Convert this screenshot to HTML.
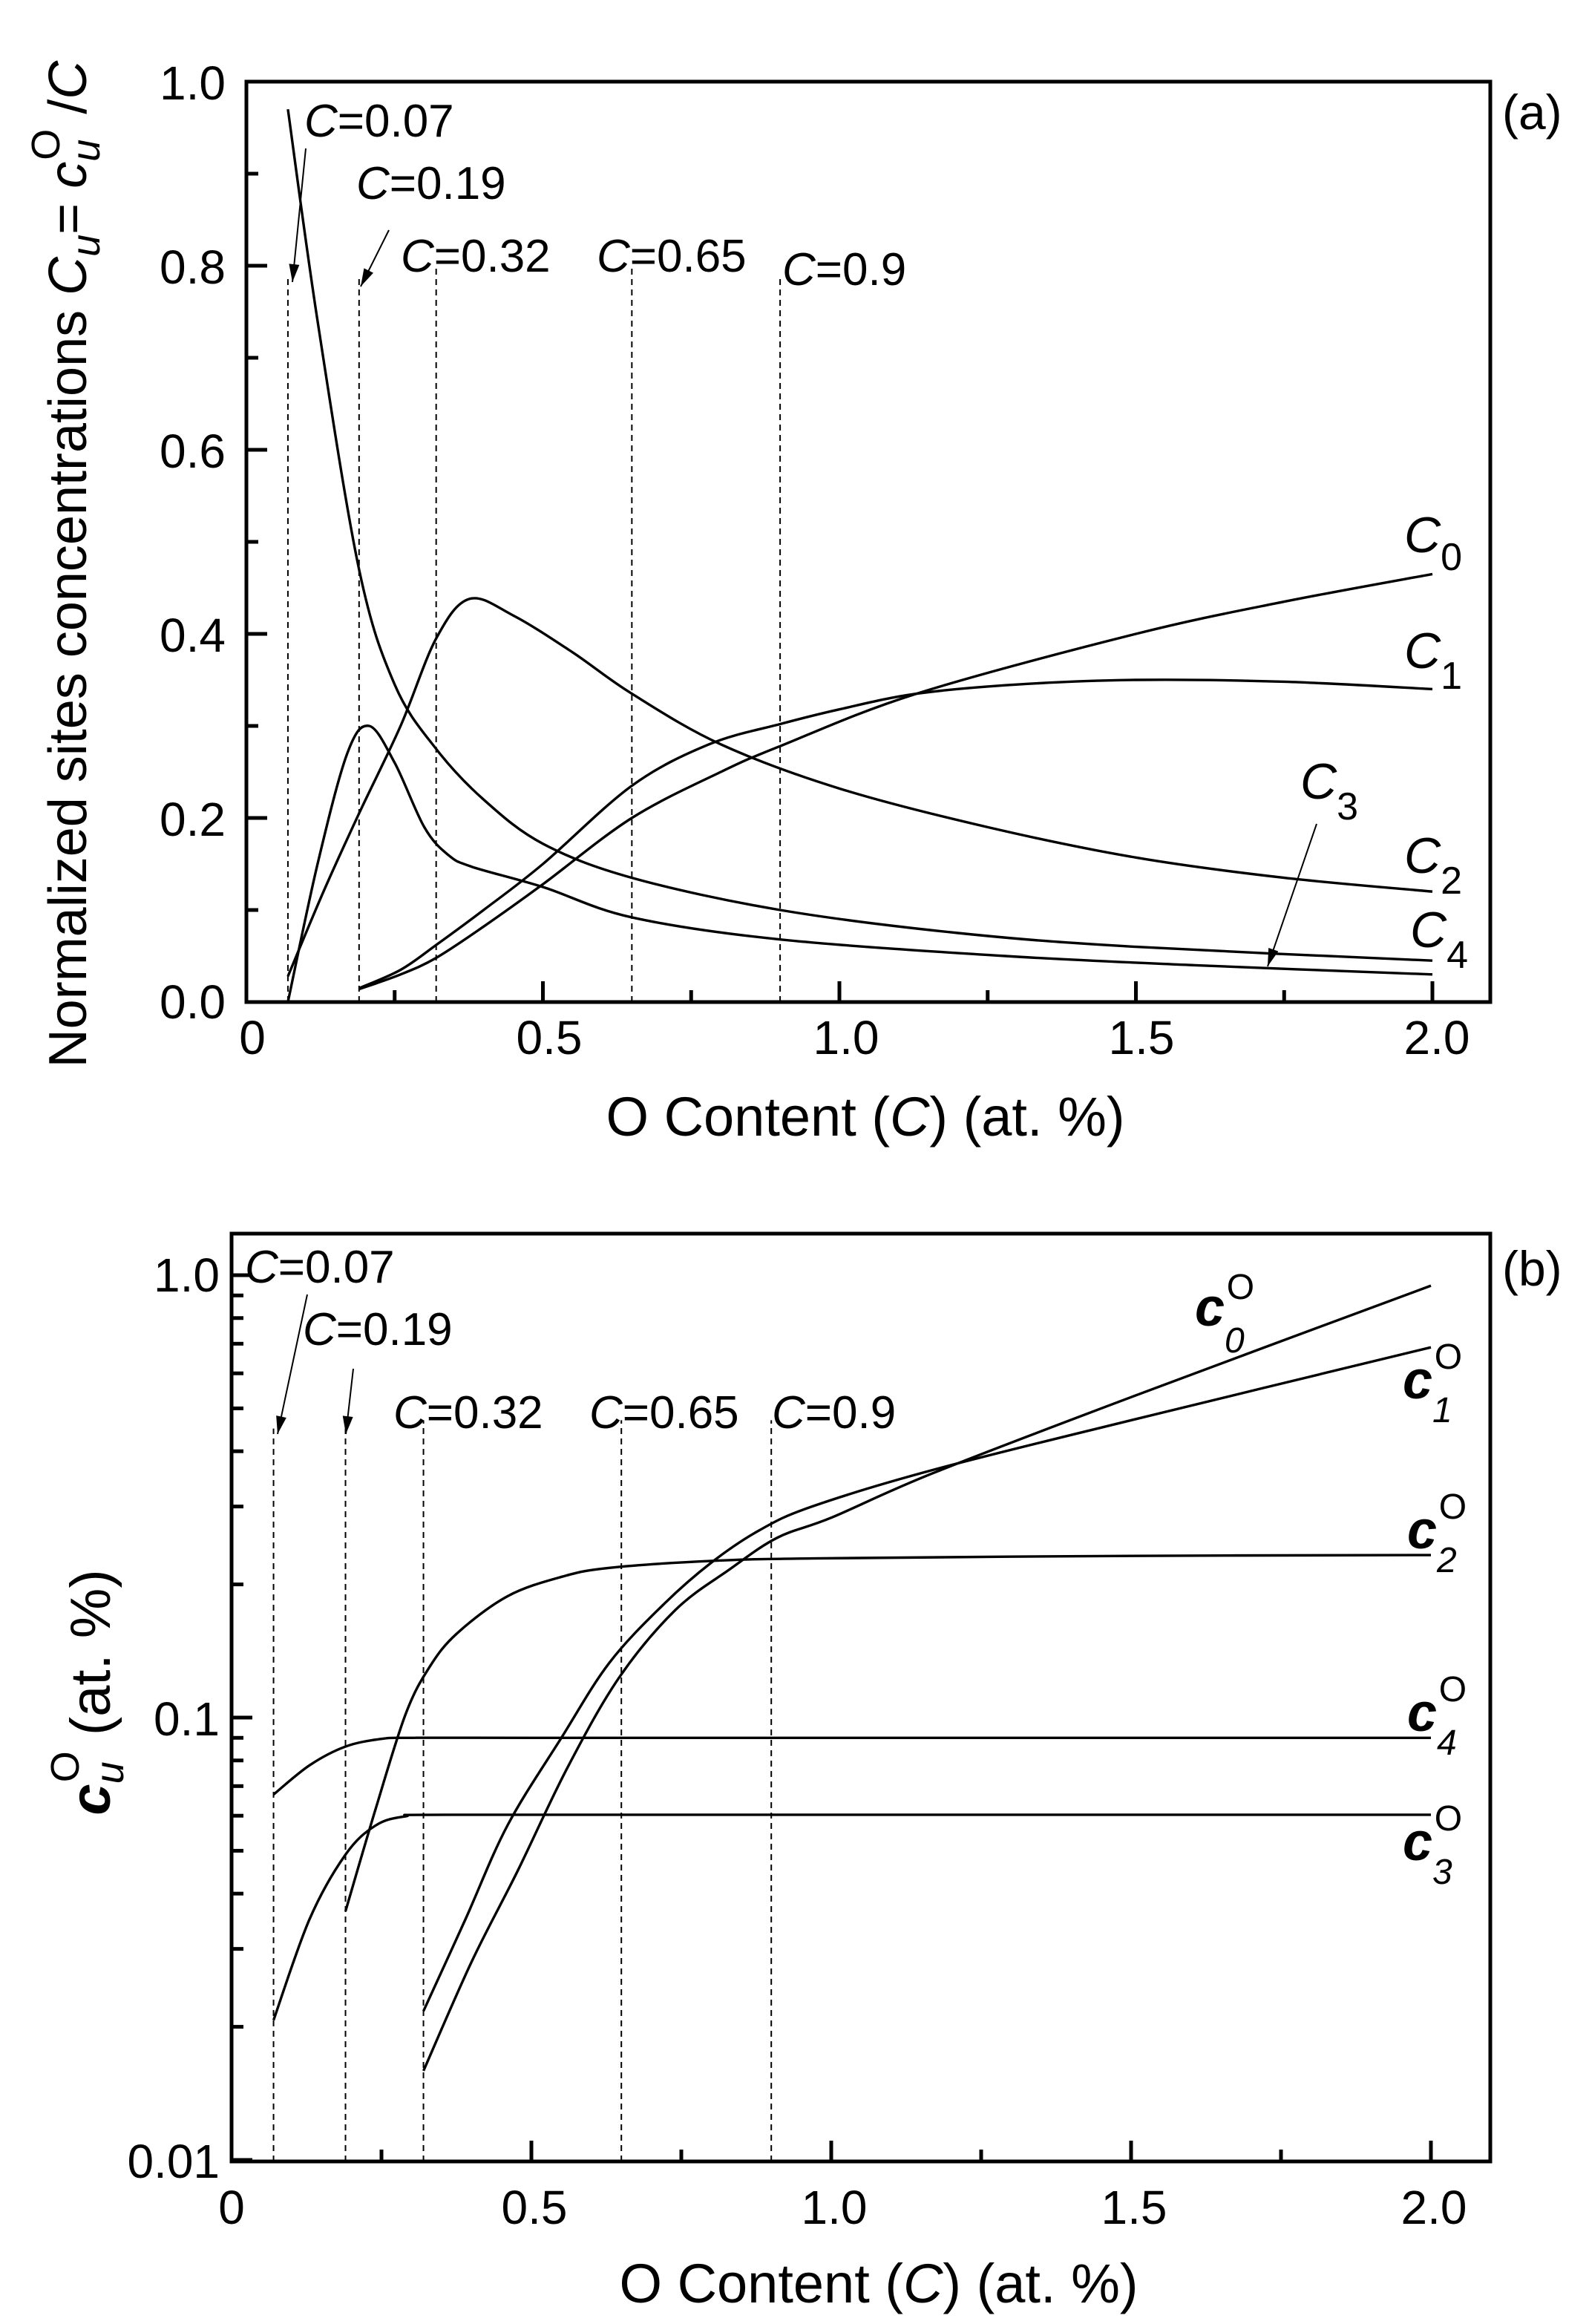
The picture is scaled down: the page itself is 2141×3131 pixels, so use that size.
<!DOCTYPE html>
<html><head><meta charset="utf-8"><style>
html,body{margin:0;padding:0;background:#fff}
svg{display:block}
text{font-family:"Liberation Sans",Arial,sans-serif;fill:#000}
</style></head><body>
<svg id="s" width="2141" height="3131" viewBox="0 0 1070.5 1565.5" xmlns="http://www.w3.org/2000/svg">
<rect width="1070.5" height="1565.5" fill="#fff"/>
<g id="g"></g>
<!-- Panel a texts -->
<g font-size="32">
<text x="152" y="67" text-anchor="end">1.0</text>
<text x="152" y="191" text-anchor="end">0.8</text>
<text x="152" y="315" text-anchor="end">0.6</text>
<text x="152" y="439" text-anchor="end">0.4</text>
<text x="152" y="563" text-anchor="end">0.2</text>
<text x="152" y="686" text-anchor="end">0.0</text>
<text x="170" y="710" text-anchor="middle">0</text>
<text x="370" y="710" text-anchor="middle">0.5</text>
<text x="570" y="710" text-anchor="middle">1.0</text>
<text x="769" y="710" text-anchor="middle">1.5</text>
<text x="968" y="710" text-anchor="middle">2.0</text>
<text x="583" y="765" text-anchor="middle" font-size="37">O Content  (<tspan font-style="italic">C</tspan>)  (at. %)</text>
<text x="1012" y="87" font-size="33">(a)</text>
<text transform="translate(58,380) rotate(-90)" text-anchor="middle" font-size="36">Normalized sites concentrations  <tspan font-style="italic">C</tspan><tspan font-style="italic" font-size="27" dy="9">u</tspan><tspan dy="-9">= </tspan><tspan font-style="italic">c</tspan><tspan font-style="italic" font-size="27" dy="9">u</tspan><tspan font-size="27" dy="-27" dx="-14">O</tspan><tspan dy="18"> /</tspan><tspan font-style="italic">C</tspan></text>
</g>
<g font-size="31">
<text x="205" y="92"><tspan font-style="italic">C</tspan>=0.07</text>
<text x="240" y="134"><tspan font-style="italic">C</tspan>=0.19</text>
<text x="270" y="183"><tspan font-style="italic">C</tspan>=0.32</text>
<text x="402" y="183"><tspan font-style="italic">C</tspan>=0.65</text>
<text x="527" y="192"><tspan font-style="italic">C</tspan>=0.9</text>
</g>
<g font-size="34">
<text x="946" y="372" font-style="italic">C<tspan font-size="26" dy="12" font-style="normal">0</tspan></text>
<text x="946" y="450" font-style="italic">C<tspan font-size="26" dy="14" font-style="normal">1</tspan></text>
<text x="876" y="538" font-style="italic">C<tspan font-size="26" dy="14" font-style="normal">3</tspan></text>
<text x="946" y="588" font-style="italic">C<tspan font-size="26" dy="14" font-style="normal">2</tspan></text>
<text x="950" y="638" font-style="italic">C<tspan font-size="26" dy="14" font-style="normal">4</tspan></text>
</g>
<!-- Panel b texts -->
<g font-size="32">
<text x="148" y="870" text-anchor="end">1.0</text>
<text x="148" y="1169" text-anchor="end">0.1</text>
<text x="148" y="1467" text-anchor="end">0.01</text>
<text x="156" y="1498" text-anchor="middle">0</text>
<text x="360" y="1498" text-anchor="middle">0.5</text>
<text x="562" y="1498" text-anchor="middle">1.0</text>
<text x="764" y="1498" text-anchor="middle">1.5</text>
<text x="966" y="1498" text-anchor="middle">2.0</text>
<text x="592" y="1551" text-anchor="middle" font-size="37">O Content  (<tspan font-style="italic">C</tspan>) (at. %)</text>
<text x="1012" y="866" font-size="33">(b)</text>
<text transform="translate(74,1140) rotate(-90)" text-anchor="middle" font-size="38"><tspan font-style="italic" font-weight="bold">c</tspan><tspan font-style="italic" font-size="27" dy="9">u</tspan><tspan font-size="27" dy="-30" dx="-14">O</tspan><tspan dy="21">   (at. %)</tspan></text>
</g>
<g font-size="31">
<text x="165" y="864"><tspan font-style="italic">C</tspan>=0.07</text>
<text x="204" y="906"><tspan font-style="italic">C</tspan>=0.19</text>
<text x="265" y="962"><tspan font-style="italic">C</tspan>=0.32</text>
<text x="397" y="962"><tspan font-style="italic">C</tspan>=0.65</text>
<text x="520" y="962"><tspan font-style="italic">C</tspan>=0.9</text>
</g>
<g font-size="36">
<text x="805" y="893" font-style="italic" font-weight="bold">c<tspan font-size="24" dy="18" font-weight="normal">0</tspan><tspan font-size="24" dy="-36" dx="-12" font-style="normal" font-weight="normal">O</tspan></text>
<text x="945" y="942" font-style="italic" font-weight="bold">c<tspan font-size="24" dy="16" font-weight="normal">1</tspan><tspan font-size="24" dy="-36" dx="-12" font-style="normal" font-weight="normal">O</tspan></text>
<text x="948" y="1043" font-style="italic" font-weight="bold">c<tspan font-size="24" dy="16" font-weight="normal">2</tspan><tspan font-size="24" dy="-36" dx="-12" font-style="normal" font-weight="normal">O</tspan></text>
<text x="948" y="1166" font-style="italic" font-weight="bold">c<tspan font-size="24" dy="16" font-weight="normal">4</tspan><tspan font-size="24" dy="-36" dx="-12" font-style="normal" font-weight="normal">O</tspan></text>
<text x="945" y="1253" font-style="italic" font-weight="bold">c<tspan font-size="24" dy="16" font-weight="normal">3</tspan><tspan font-size="24" dy="-36" dx="-12" font-style="normal" font-weight="normal">O</tspan></text>
</g>
</svg>
<script>
var g=document.getElementById('g'),NS='http://www.w3.org/2000/svg';
function el(t,a){var e=document.createElementNS(NS,t);for(var k in a)e.setAttribute(k,a[k]);g.appendChild(e);return e;}
function line(x1,y1,x2,y2,w,d){var a={x1:x1,y1:y1,x2:x2,y2:y2,stroke:'#000','stroke-width':w||1.2};if(d)a['stroke-dasharray']=d;el('line',a);}
function curve(pts){var d='M'+pts[0][0]+','+pts[0][1];for(var i=0;i<pts.length-1;i++){var p0=pts[Math.max(0,i-1)],p1=pts[i],p2=pts[i+1],p3=pts[Math.min(pts.length-1,i+2)];var t=1/6;d+=' C'+(p1[0]+(p2[0]-p0[0])*t)+','+(p1[1]+(p2[1]-p0[1])*t)+' '+(p2[0]-(p3[0]-p1[0])*t)+','+(p2[1]-(p3[1]-p1[1])*t)+' '+p2[0]+','+p2[1];}el('path',{d:d,fill:'none',stroke:'#000','stroke-width':1.7});}
function arrow(x1,y1,x2,y2){line(x1,y1,x2,y2,1);var a=Math.atan2(y2-y1,x2-x1),L=12,W=3.5;var bx=x2-L*Math.cos(a),by=y2-L*Math.sin(a);el('polygon',{points:x2+','+y2+' '+(bx+W*Math.sin(a))+','+(by-W*Math.cos(a))+' '+(bx-W*Math.sin(a))+','+(by+W*Math.cos(a)),fill:'#000'});}
// Panel a
var XA=function(c){return 166+399.5*c},YA=function(v){return 675-620*v};
el('rect',{x:166,y:55,width:838,height:620,fill:'none',stroke:'#000','stroke-width':2.5});
for(var v=0.1;v<1.0;v+=0.1){var y=YA(v),maj=Math.round(v*10)%2==0;line(166,y,166+(maj?14:8),y,2.5);}
for(var c=0.25;c<2.05;c+=0.25){var x=XA(c),maj=Math.round(c*4)%2==0;line(x,675,x,675-(maj?14:8),2.5);}
[[0.07,0.79],[0.19,0.79],[0.32,0.8],[0.65,0.8],[0.9,0.79]].forEach(function(p){line(XA(p[0]),675,XA(p[0]),YA(p[1]),1,'4,3');});
arrow(206,100,197,190);arrow(262,155,243,193);arrow(887,555,854,651);
function pa(arr){curve(arr.map(function(p){return[XA(p[0]),YA(p[1])]}));}
pa([[0.07,0.97],[0.12,0.74],[0.19,0.47],[0.25,0.345],[0.32,0.275],[0.4,0.22],[0.5,0.172],[0.65,0.135],[0.9,0.1],[1.2,0.075],[1.5,0.06],[2.0,0.045]]);
pa([[0.07,0.028],[0.13,0.12],[0.19,0.205],[0.26,0.3],[0.32,0.395],[0.376,0.438],[0.45,0.42],[0.55,0.38],[0.65,0.335],[0.8,0.28],[1.0,0.232],[1.25,0.19],[1.5,0.157],[1.75,0.135],[2.0,0.12]]);
pa([[0.07,0.0],[0.12,0.15],[0.17,0.27],[0.207,0.3],[0.25,0.26],[0.3,0.19],[0.34,0.16],[0.38,0.147],[0.5,0.125],[0.65,0.092],[0.9,0.068],[1.28,0.05],[1.6,0.04],[2.0,0.03]]);
pa([[0.19,0.015],[0.26,0.035],[0.32,0.062],[0.4,0.1],[0.5,0.15],[0.65,0.235],[0.78,0.28],[0.9,0.302],[1.0,0.318],[1.13,0.335],[1.3,0.345],[1.5,0.35],[1.75,0.348],[2.0,0.34]]);
pa([[0.19,0.014],[0.26,0.03],[0.32,0.048],[0.4,0.082],[0.5,0.128],[0.65,0.2],[0.8,0.25],[0.9,0.278],[1.13,0.335],[1.5,0.4],[1.75,0.435],[2.0,0.465]]);
// Panel b
var XB=function(c){return 156+404*c},YB=function(v){return 859-298*Math.log10(v)};
el('rect',{x:156,y:831,width:848,height:625,fill:'none',stroke:'#000','stroke-width':2.5});
[0.01,0.1].forEach(function(b){for(var k=1;k<=10;k++){var v=b*k;var y=YB(v);if(y<832)continue;var maj=(k==1||k==10);line(156,y,156+(maj?14:8),y,2.5);}});
for(var c=0.25;c<2.05;c+=0.25){var x=XB(c),maj=Math.round(c*4)%2==0;line(x,1456,x,1456-(maj?14:8),2.5);}
[[0.07,0.45],[0.19,0.45],[0.32,0.47],[0.65,0.47],[0.9,0.47]].forEach(function(p){line(XB(p[0]),1456,XB(p[0]),YB(p[1]),1,'4,3');});
arrow(207,872,187,966);arrow(238,922,233,966);
function pb(arr){curve(arr.map(function(p){return[XB(p[0]),YB(p[1])]}));}
pb([[0.07,0.067],[0.13,0.078],[0.19,0.086],[0.25,0.0895],[0.3,0.09],[0.5,0.09],[2.0,0.09]]);
pb([[0.07,0.0207],[0.13,0.035],[0.19,0.049],[0.24,0.057],[0.29,0.0598],[0.36,0.0603],[1.0,0.0603],[2.0,0.0603]]);
pb([[0.19,0.0365],[0.24,0.062],[0.29,0.1016],[0.33,0.13],[0.376,0.155],[0.46,0.188],[0.55,0.208],[0.63,0.218],[0.8,0.226],[0.97,0.229],[1.5,0.232],[2.0,0.233]]);
pb([[0.32,0.0217],[0.39,0.035],[0.46,0.057],[0.55,0.09],[0.63,0.133],[0.72,0.18],[0.8,0.224],[0.88,0.265],[0.968,0.3],[1.17,0.363],[1.5,0.47],[2.0,0.687]]);
pb([[0.32,0.0159],[0.4,0.028],[0.477,0.045],[0.56,0.077],[0.646,0.123],[0.74,0.175],[0.83,0.216],[0.91,0.255],[1.0,0.283],[1.17,0.357],[1.5,0.53],[2.0,0.947]]);
</script>
</body></html>
